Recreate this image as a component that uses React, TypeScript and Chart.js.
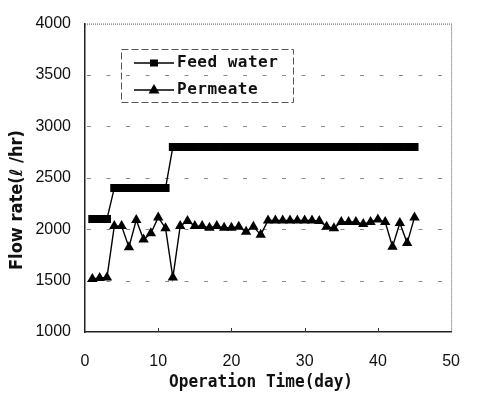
import { useEffect, useRef } from 'react';
import { Chart, registerables } from 'chart.js';

Chart.register(...registerables);

const days = [1, 2, 3, 4, 5, 6, 7, 8, 9, 10, 11, 12, 13, 14, 15, 16, 17, 18, 19, 20, 21, 22, 23, 24, 25, 26, 27, 28, 29, 30, 31, 32, 33, 34, 35, 36, 37, 38, 39, 40, 41, 42, 43, 44, 45];
const feedWater = [2100, 2100, 2100, 2400, 2400, 2400, 2400, 2400, 2400, 2400, 2400, 2800, 2800, 2800, 2800, 2800, 2800, 2800, 2800, 2800, 2800, 2800, 2800, 2800, 2800, 2800, 2800, 2800, 2800, 2800, 2800, 2800, 2800, 2800, 2800, 2800, 2800, 2800, 2800, 2800, 2800, 2800, 2800, 2800, 2800];
const permeate = [1515, 1525, 1530, 2030, 2030, 1825, 2090, 1900, 1960, 2115, 2010, 1530, 2030, 2080, 2030, 2030, 2015, 2030, 2015, 2015, 2025, 1975, 2025, 1945, 2085, 2085, 2085, 2085, 2085, 2085, 2085, 2080, 2025, 2010, 2070, 2070, 2070, 2050, 2070, 2095, 2070, 1830, 2060, 1865, 2115];
const yTicks = [1000, 1500, 2000, 2500, 3000, 3500, 4000];
const xTicks = [0, 10, 20, 30, 40, 50];
const seriesNames = ['Feed water', 'Permeate'];
const xTitle = 'Operation Time(day)';
const yTitle = 'Flow rate(\u2113 /hr)';

const tickFont = { family: "'Liberation Sans', Arial, sans-serif", size: 16 };

const framePlugin = {
  id: 'frame',
  beforeDatasetsDraw(chart: any) {
    const { ctx, chartArea } = chart;
    const ys = chart.scales.y;
    ctx.save();
    // dashed horizontal grid lines
    ctx.strokeStyle = '#8a8a8a';
    ctx.lineWidth = 1;
    ctx.setLineDash([4, 15.5]);
    ctx.beginPath();
    yTicks.slice(1, -1).forEach((v) => {
      const py = Math.round(ys.getPixelForValue(v)) + 0.5;
      ctx.moveTo(chartArea.left + 2, py);
      ctx.lineTo(chartArea.right, py);
    });
    ctx.stroke();
    // dotted top and right frame
    ctx.strokeStyle = '#555';
    ctx.setLineDash([1, 1]);
    ctx.beginPath();
    ctx.moveTo(chartArea.left, chartArea.top + 0.5);
    ctx.lineTo(chartArea.right, chartArea.top + 0.5);
    ctx.moveTo(chartArea.right + 0.5, chartArea.top);
    ctx.lineTo(chartArea.right + 0.5, chartArea.bottom);
    ctx.stroke();
    ctx.setLineDash([]);
    // small inner tick marks on x axis
    const xs = chart.scales.x;
    ctx.strokeStyle = '#333';
    ctx.beginPath();
    xTicks.slice(1, -1).forEach((v) => {
      const px = Math.round(xs.getPixelForValue(v)) + 0.5;
      ctx.moveTo(px, chartArea.bottom);
      ctx.lineTo(px, chartArea.bottom - 4);
    });
    ctx.stroke();
    ctx.restore();
  },
};

const titlePlugin = {
  id: 'titles',
  afterDraw(chart: any) {
    const { ctx, chartArea } = chart;
    ctx.save();
    ctx.fillStyle = '#111';
    ctx.textAlign = 'center';
    ctx.textBaseline = 'middle';
    ctx.font = "bold 17px 'DejaVu Sans Mono', monospace";
    ctx.fillText(xTitle, (chartArea.left + chartArea.right) / 2 - 7, 383, 184);
    ctx.translate(18, 200);
    ctx.rotate(-Math.PI / 2);
    ctx.font = "bold 17px 'DejaVu Sans', sans-serif";
    ctx.fillText(yTitle, 0, 0, 140);
    ctx.restore();
  },
};

const legendPlugin = {
  id: 'boxLegend',
  afterDraw(chart: any) {
    const { ctx } = chart;
    const bx = 121, by = 49, bw = 172, bh = 53;
    ctx.save();
    ctx.strokeStyle = '#555';
    ctx.lineWidth = 1;
    ctx.setLineDash([7, 3]);
    ctx.strokeRect(bx + 0.5, by + 0.5, bw, bh);
    ctx.setLineDash([]);
    const rows = [63, 90];
    chart.data.datasets.forEach((ds: any, i: number) => {
      const y = rows[i];
      ctx.strokeStyle = '#000';
      ctx.lineWidth = 1.3;
      ctx.beginPath();
      ctx.moveTo(134, y);
      ctx.lineTo(174, y);
      ctx.stroke();
      ctx.fillStyle = '#000';
      const cx = 154;
      if (ds.pointStyle === 'rect') {
        ctx.fillRect(cx - 4, y - 3.5, 8, 7);
      } else {
        ctx.beginPath();
        ctx.moveTo(cx, y - 6);
        ctx.lineTo(cx + 5.5, y + 3.5);
        ctx.lineTo(cx - 5.5, y + 3.5);
        ctx.closePath();
        ctx.fill();
      }
      ctx.fillStyle = '#111';
      ctx.font = "bold 16px 'DejaVu Sans Mono', monospace";
      ctx.textAlign = 'left';
      ctx.textBaseline = 'middle';
      (ctx as any).letterSpacing = '0.5px';
      ctx.fillText(ds.label, 177, y);
      (ctx as any).letterSpacing = '0px';
    });
    ctx.restore();
  },
};

export default function App() {
  const ref = useRef<HTMLCanvasElement | null>(null);
  useEffect(() => {
    if (!ref.current) return;
    const chart = new Chart(ref.current, {
      type: 'line',
      data: {
        datasets: [
          {
            label: seriesNames[0],
            data: days.map((d, i) => ({ x: d, y: feedWater[i] })),
            borderColor: '#000',
            backgroundColor: '#000',
            borderWidth: 1.4,
            pointStyle: 'rect',
            pointRadius: 5.7,
            pointBorderWidth: 0,
            pointBackgroundColor: '#000',
          },
          {
            label: seriesNames[1],
            data: days.map((d, i) => ({ x: d, y: permeate[i] })),
            borderColor: '#000',
            backgroundColor: '#000',
            borderWidth: 1.4,
            pointStyle: 'triangle',
            pointRadius: 6,
            pointBorderWidth: 0,
            pointBackgroundColor: '#000',
          },
        ],
      },
      options: {
        responsive: false,
        animation: false,
        devicePixelRatio: 1,
        layout: { padding: { top: 11, right: 9, left: 0, bottom: 0 } },
        plugins: { legend: { display: false }, tooltip: { enabled: false } },
        scales: {
          x: {
            type: 'linear',
            min: 0,
            max: 50,
            afterBuildTicks: (s: any) => {
              s.ticks = xTicks.map((v) => ({ value: v }));
            },
            afterFit: (s: any) => {
              s.height = 70;
            },
            grid: { display: false, drawTicks: false },
            border: { display: true, color: '#222', width: 1.5 },
            ticks: { color: '#111', font: tickFont, padding: 20, maxRotation: 0, callback: (v: any) => String(v) },
          },
          y: {
            type: 'linear',
            min: 1000,
            max: 4000,
            afterBuildTicks: (s: any) => {
              s.ticks = yTicks.map((v) => ({ value: v }));
            },
            afterFit: (s: any) => {
              s.width = 85;
            },
            grid: { display: false, drawTicks: false },
            border: { display: true, color: '#222', width: 1.5 },
            ticks: { color: '#111', font: tickFont, padding: 14, callback: (v: any) => String(v) },
          },
        },
      } as any,
      plugins: [framePlugin, titlePlugin, legendPlugin],
    });
    return () => chart.destroy();
  }, []);
  return (
    <div style={{ position: 'absolute', left: 0, top: 0, width: 480, height: 402, background: '#fff' }}>
      <canvas ref={ref} width={480} height={402} style={{ display: 'block' }} />
    </div>
  );
}
